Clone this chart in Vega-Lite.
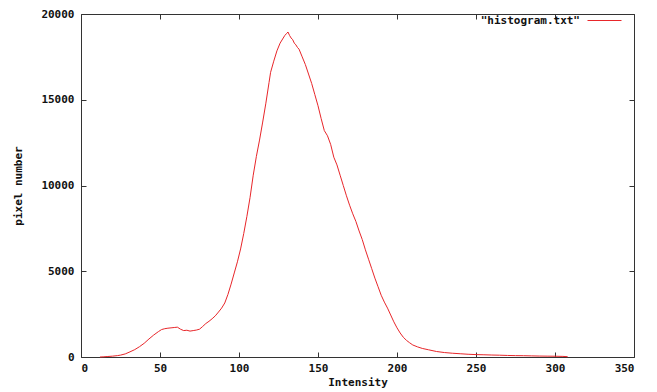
{
  "$schema": "https://vega.github.io/schema/vega-lite/v6.json",
  "width": 553,
  "height": 343,
  "autosize": {"type": "none"},
  "padding": {"left": 81, "top": 14, "right": 23, "bottom": 35},
  "background": "white",
  "config": {
    "view": {"stroke": "#333333", "strokeWidth": 1},
    "axis": {
      "labelFont": "DejaVu Sans Mono",
      "labelFontWeight": "bold",
      "labelFontSize": 11,
      "labelColor": "#111111",
      "titleFont": "DejaVu Sans Mono",
      "titleFontWeight": "bold",
      "titleFontSize": 11,
      "titleColor": "#111111",
      "grid": false,
      "domain": false,
      "tickColor": "#333333",
      "tickSize": -5
    },
    "legend": {
      "labelFont": "DejaVu Sans Mono",
      "labelFontWeight": "bold",
      "labelFontSize": 11,
      "labelColor": "#111111"
    }
  },
  "data": {
    "values": [
      {"intensity": 12, "count": 0}, {"intensity": 14, "count": 10}, {"intensity": 17, "count": 30},
      {"intensity": 20, "count": 50}, {"intensity": 23, "count": 80}, {"intensity": 25, "count": 110},
      {"intensity": 28, "count": 180}, {"intensity": 31, "count": 300}, {"intensity": 34, "count": 430},
      {"intensity": 37, "count": 600}, {"intensity": 40, "count": 800}, {"intensity": 43, "count": 1050},
      {"intensity": 46, "count": 1280}, {"intensity": 49, "count": 1480}, {"intensity": 51, "count": 1600},
      {"intensity": 53, "count": 1650}, {"intensity": 55, "count": 1680}, {"intensity": 57, "count": 1700},
      {"intensity": 59, "count": 1720}, {"intensity": 61, "count": 1740}, {"intensity": 63, "count": 1620},
      {"intensity": 65, "count": 1540}, {"intensity": 67, "count": 1560}, {"intensity": 69, "count": 1510},
      {"intensity": 71, "count": 1540}, {"intensity": 73, "count": 1570}, {"intensity": 75, "count": 1620},
      {"intensity": 77, "count": 1780}, {"intensity": 79, "count": 1950}, {"intensity": 81, "count": 2080},
      {"intensity": 83, "count": 2230}, {"intensity": 85, "count": 2400}, {"intensity": 87, "count": 2620},
      {"intensity": 89, "count": 2850}, {"intensity": 91, "count": 3150}, {"intensity": 93, "count": 3650},
      {"intensity": 95, "count": 4250}, {"intensity": 97, "count": 4900}, {"intensity": 99, "count": 5550},
      {"intensity": 101, "count": 6300}, {"intensity": 103, "count": 7200}, {"intensity": 105, "count": 8200},
      {"intensity": 107, "count": 9300}, {"intensity": 109, "count": 10600}, {"intensity": 111, "count": 11700},
      {"intensity": 113, "count": 12650}, {"intensity": 115, "count": 13700}, {"intensity": 117, "count": 14800},
      {"intensity": 119, "count": 16000}, {"intensity": 120, "count": 16600}, {"intensity": 122, "count": 17250},
      {"intensity": 124, "count": 17850}, {"intensity": 126, "count": 18300}, {"intensity": 128, "count": 18600},
      {"intensity": 129, "count": 18750}, {"intensity": 130, "count": 18850}, {"intensity": 131, "count": 18950},
      {"intensity": 132, "count": 18750}, {"intensity": 133, "count": 18600}, {"intensity": 134, "count": 18500},
      {"intensity": 135, "count": 18300}, {"intensity": 136, "count": 18200}, {"intensity": 137, "count": 18050},
      {"intensity": 138, "count": 17950}, {"intensity": 140, "count": 17500}, {"intensity": 142, "count": 17050},
      {"intensity": 144, "count": 16500}, {"intensity": 146, "count": 15950}, {"intensity": 148, "count": 15300},
      {"intensity": 150, "count": 14650}, {"intensity": 152, "count": 13900}, {"intensity": 154, "count": 13200},
      {"intensity": 156, "count": 12900}, {"intensity": 158, "count": 12400}, {"intensity": 160, "count": 11650},
      {"intensity": 162, "count": 11200}, {"intensity": 164, "count": 10600}, {"intensity": 166, "count": 10000},
      {"intensity": 168, "count": 9400}, {"intensity": 170, "count": 8850}, {"intensity": 172, "count": 8350},
      {"intensity": 174, "count": 7900}, {"intensity": 176, "count": 7350}, {"intensity": 178, "count": 6850},
      {"intensity": 180, "count": 6250}, {"intensity": 182, "count": 5700}, {"intensity": 184, "count": 5150},
      {"intensity": 186, "count": 4600}, {"intensity": 188, "count": 4100}, {"intensity": 190, "count": 3600},
      {"intensity": 192, "count": 3200}, {"intensity": 194, "count": 2850}, {"intensity": 196, "count": 2450},
      {"intensity": 198, "count": 2050}, {"intensity": 200, "count": 1700}, {"intensity": 202, "count": 1400},
      {"intensity": 204, "count": 1150}, {"intensity": 206, "count": 970}, {"intensity": 208, "count": 830},
      {"intensity": 210, "count": 700}, {"intensity": 213, "count": 590}, {"intensity": 216, "count": 500},
      {"intensity": 220, "count": 420}, {"intensity": 225, "count": 320}, {"intensity": 230, "count": 260},
      {"intensity": 235, "count": 220}, {"intensity": 240, "count": 190}, {"intensity": 245, "count": 160},
      {"intensity": 250, "count": 140}, {"intensity": 255, "count": 130}, {"intensity": 260, "count": 115},
      {"intensity": 265, "count": 105}, {"intensity": 270, "count": 90}, {"intensity": 275, "count": 80},
      {"intensity": 280, "count": 75}, {"intensity": 285, "count": 65}, {"intensity": 290, "count": 55},
      {"intensity": 295, "count": 50}, {"intensity": 300, "count": 45}, {"intensity": 305, "count": 35},
      {"intensity": 308, "count": 20}
    ]
  },
  "layer": [
    {
      "mark": {"type": "line", "strokeWidth": 1},
      "encoding": {
        "x": {
          "field": "intensity", "type": "quantitative",
          "scale": {"domain": [0, 350], "nice": false},
          "axis": {"title": "Intensity", "values": [0, 50, 100, 150, 200, 250, 300, 350], "labelPadding": 10, "titlePadding": 3}
        },
        "y": {
          "field": "count", "type": "quantitative",
          "scale": {"domain": [0, 20000], "nice": false},
          "axis": {"title": "pixel number", "values": [0, 5000, 10000, 15000, 20000], "format": "d", "labelPadding": 12, "titlePadding": 17}
        },
        "color": {
          "datum": "\"histogram.txt\"", "type": "nominal",
          "scale": {"range": ["#e8262a"]},
          "legend": {
            "title": null, "orient": "none", "legendX": 506, "legendY": -11,
            "symbolType": "stroke", "symbolSize": 1156, "symbolStrokeWidth": 1,
            "labelAlign": "right", "labelOffset": -42
          }
        }
      }
    },
    {
      "mark": {"type": "line", "opacity": 0},
      "encoding": {
        "x": {
          "field": "intensity", "type": "quantitative",
          "scale": {"domain": [0, 350], "nice": false},
          "axis": {"orient": "top", "title": null, "labels": false, "values": [0, 50, 100, 150, 200, 250, 300, 350]}
        },
        "y": {
          "field": "count", "type": "quantitative",
          "scale": {"domain": [0, 20000], "nice": false},
          "axis": {"orient": "right", "title": null, "labels": false, "values": [0, 5000, 10000, 15000, 20000]}
        }
      }
    }
  ],
  "resolve": {"axis": {"x": "independent", "y": "independent"}}
}
